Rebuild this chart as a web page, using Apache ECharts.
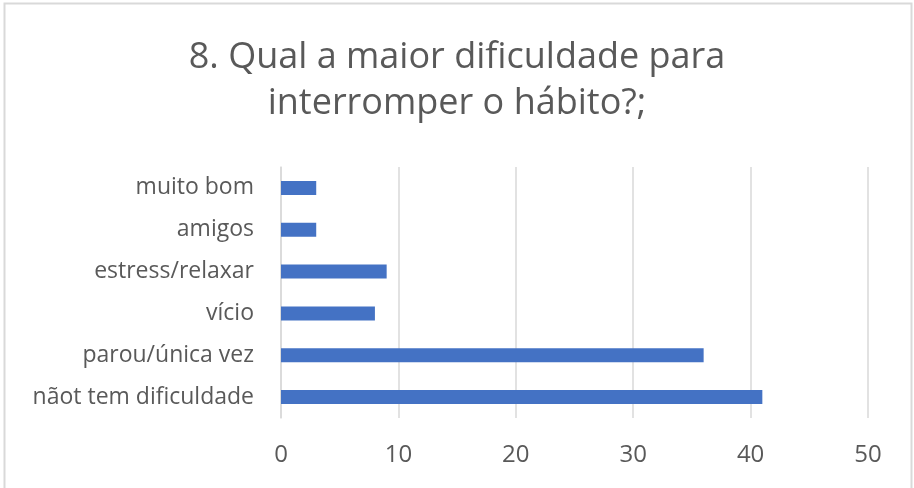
<!DOCTYPE html>
<html><head><meta charset="utf-8">
<script src="https://cdn.jsdelivr.net/npm/echarts@6/dist/echarts.min.js"></script>
<style>html,body{margin:0;padding:0;background:#fff}#c{width:914px;height:488px}</style>
</head><body><div id="c"></div>
<script>
const categories = ['nãot tem dificuldade','parou/única vez','vício','estress/relaxar','amigos','muito bom'];
const values = [41, 36, 8, 9, 3, 3];
const xTicks = [0, 10, 20, 30, 40, 50];
const titleText = '8. Qual a maior dificuldade para\ninterromper o hábito?;';

const chart = echarts.init(document.getElementById('c'), null, {renderer:'canvas'});
const FONT = 'Open Sans';
chart.setOption({
  animation:false,
  backgroundColor:'#fff',
  graphic:[{type:'rect',shape:{x:4.5,y:3.5,width:907,height:495},style:{fill:'none',stroke:'#d9d9d9',lineWidth:2}}],
  title:{text:titleText,left:'center',top:30,textStyle:{fontFamily:FONT,fontWeight:'normal',fontSize:36,color:'#595959',lineHeight:46}},
  grid:{left:281,right:46,top:167,height:251,containLabel:false},
  xAxis:{type:'value',min:xTicks[0],max:xTicks[xTicks.length-1],interval:10,
    axisLine:{show:false},axisTick:{show:false},
    axisLabel:{margin:25,fontFamily:FONT,fontSize:24,color:'#595959'},
    splitLine:{lineStyle:{color:'#d9d9d9',width:1.5}}},
  yAxis:{type:'category',data:categories,
    axisLine:{show:true,lineStyle:{color:'#d9d9d9',width:1.5}},axisTick:{show:false},
    axisLabel:{margin:27,fontFamily:FONT,fontSize:23,color:'#595959'}},
  series:[{type:'bar',data:values,barWidth:14,itemStyle:{color:'#4472c4'}}]
});
</script></body></html>
